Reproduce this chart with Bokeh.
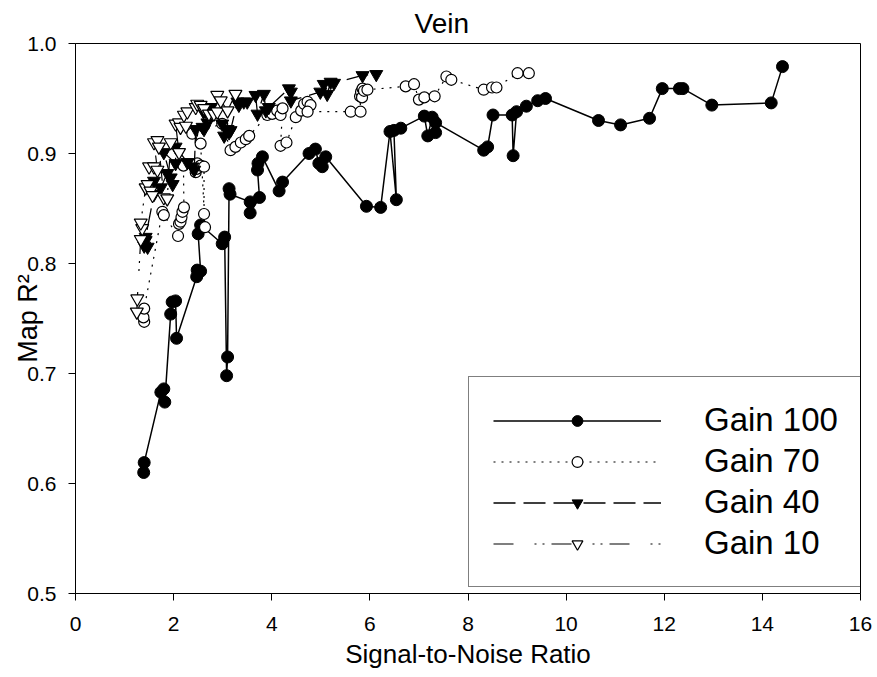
from bokeh.plotting import figure
from bokeh.models import Range1d, FixedTicker, PrintfTickFormatter, Legend, LegendItem
from bokeh.embed import file_html
from bokeh.resources import INLINE

FONT = "Liberation Sans"

title_text = "Vein"
x_label = "Signal-to-Noise Ratio"
y_label = "Map R\u00b2"
x_ticks = [0, 2, 4, 6, 8, 10, 12, 14, 16]
y_ticks = [0.5, 0.6, 0.7, 0.8, 0.9, 1.0]
series_names = ["Gain 100", "Gain 70", "Gain 40", "Gain 10"]

snr_100 = [1.39, 1.40, 1.74, 1.80, 1.82, 1.94, 1.97, 2.04, 2.06, 2.47, 2.48, 2.55, 2.50, 2.55,
           2.99, 3.04, 3.08, 3.10, 3.13, 3.15, 3.56, 3.56, 3.75, 3.71, 3.72, 3.81, 4.15, 4.22,
           4.76, 4.89, 4.96, 5.03, 5.10, 5.93, 6.22, 6.41, 6.54, 6.49, 6.63, 7.11, 7.18, 7.27,
           7.34, 7.34, 8.32, 8.40, 8.51, 8.90, 8.92, 8.99, 9.19, 9.42, 9.58, 10.66, 11.11, 11.70,
           11.96, 12.31, 12.38, 12.97, 14.18, 14.41]
r2_100 = [0.610, 0.619, 0.683, 0.686, 0.674, 0.754, 0.765, 0.766, 0.732, 0.788, 0.794, 0.793, 0.827, 0.835,
          0.818, 0.824, 0.698, 0.715, 0.868, 0.863, 0.856, 0.846, 0.860, 0.885, 0.891, 0.897, 0.866, 0.874,
          0.900, 0.904, 0.891, 0.888, 0.897, 0.852, 0.851, 0.920, 0.858, 0.921, 0.923, 0.934, 0.916, 0.933,
          0.919, 0.928, 0.903, 0.906, 0.935, 0.935, 0.898, 0.938, 0.943, 0.948, 0.950, 0.930, 0.926, 0.932,
          0.959, 0.959, 0.959, 0.944, 0.946, 0.979]

snr_70 = [1.40, 1.385, 1.40, 1.77, 1.80, 2.09, 2.11, 2.14, 2.16, 2.18, 2.21, 2.20, 2.45, 2.47, 2.48,
          2.55, 2.62, 2.62, 2.64, 2.55, 2.38, 2.99, 3.16, 3.26, 3.37, 3.47, 3.54, 3.91, 4.01, 4.11,
          4.18, 4.22, 4.18, 4.30, 4.49, 4.60, 4.66, 4.73, 4.79, 4.73, 5.61, 5.81, 5.80, 5.82, 5.84,
          5.85, 5.88, 5.95, 6.73, 6.90, 7.00, 7.11, 7.32, 7.56, 7.66, 8.32, 8.49, 8.58, 9.01, 9.24]
r2_70 = [0.747, 0.751, 0.759, 0.847, 0.844, 0.825, 0.836, 0.838, 0.842, 0.847, 0.851, 0.889, 0.883, 0.886, 0.891,
         0.889, 0.888, 0.845, 0.833, 0.909, 0.918, 0.927, 0.903, 0.906, 0.910, 0.913, 0.916, 0.935, 0.936, 0.939,
         0.935, 0.941, 0.907, 0.910, 0.933, 0.939, 0.945, 0.947, 0.944, 0.938, 0.938, 0.938, 0.952, 0.956, 0.951,
         0.959, 0.957, 0.958, 0.961, 0.963, 0.949, 0.951, 0.952, 0.970, 0.967, 0.958, 0.960, 0.960, 0.973, 0.973]

snr_40 = [1.40, 1.43, 1.47, 1.43, 1.60, 1.60, 1.74, 1.87, 1.94, 1.98, 1.80, 2.04, 2.04, 2.28, 2.38,
          2.42, 2.45, 2.59, 2.62, 2.69, 2.61, 2.72, 2.76, 2.99, 3.03, 3.10, 3.13, 3.16, 3.30, 3.33,
          3.43, 3.50, 3.67, 3.71, 3.84, 3.88, 3.94, 4.35, 4.39, 4.39, 4.99, 5.06, 5.13, 5.20, 5.27,
          5.85, 6.13]
r2_40 = [0.816, 0.821, 0.815, 0.824, 0.863, 0.875, 0.869, 0.882, 0.878, 0.872, 0.901, 0.891, 0.906, 0.892, 0.888,
         0.885, 0.922, 0.924, 0.922, 0.928, 0.938, 0.942, 0.942, 0.927, 0.916, 0.922, 0.919, 0.921, 0.947, 0.944,
         0.947, 0.947, 0.953, 0.936, 0.954, 0.939, 0.942, 0.959, 0.956, 0.948, 0.956, 0.963, 0.954, 0.965, 0.964,
         0.971, 0.972]

snr_10 = [1.25, 1.26, 1.33, 1.36, 1.33, 1.43, 1.47, 1.53, 1.57, 1.50, 1.60, 1.67, 1.60, 1.67, 1.70,
          1.80, 1.87, 1.94, 2.11, 2.04, 2.11, 2.14, 2.25, 2.21, 2.28, 2.45, 2.48, 2.55, 2.62, 2.72,
          2.82, 2.89, 2.89, 2.96, 3.10, 3.26]
r2_10 = [0.756, 0.768, 0.822, 0.832, 0.837, 0.869, 0.872, 0.866, 0.862, 0.888, 0.888, 0.885, 0.910, 0.912, 0.906,
         0.860, 0.859, 0.910, 0.901, 0.927, 0.928, 0.924, 0.925, 0.935, 0.938, 0.942, 0.945, 0.944, 0.941, 0.936,
         0.936, 0.938, 0.953, 0.948, 0.939, 0.954]

p = figure(width=877, height=677, output_backend="svg", toolbar_location=None, title=title_text,
           x_range=Range1d(0, 16), y_range=Range1d(0.5, 1.0),
           min_border_left=75, min_border_right=17, min_border_top=43, min_border_bottom=84)
p.title.text_font = FONT
p.title.text_font_size = "28px"
p.title.text_font_style = "normal"
p.title.text_color = "black"
p.title.align = "left"
p.title.offset = 339
p.title.standoff = 10
p.xgrid.visible = False
p.ygrid.visible = False
p.outline_line_color = "black"
p.outline_line_width = 1
p.background_fill_color = "white"
p.border_fill_color = "white"

p.xaxis.ticker = FixedTicker(ticks=x_ticks)
p.yaxis.ticker = FixedTicker(ticks=y_ticks)
p.yaxis.formatter = PrintfTickFormatter(format="%.1f")
for ax in (p.xaxis[0], p.yaxis[0]):
    ax.axis_line_color = "black"
    ax.axis_line_width = 1
    ax.major_tick_line_color = "black"
    ax.major_tick_line_width = 1
    ax.major_tick_in = 0
    ax.major_tick_out = 7
    ax.minor_tick_line_color = None
    ax.major_label_text_font = FONT
    ax.major_label_text_font_size = "21px"
    ax.major_label_text_color = "black"
    ax.axis_label_text_font = FONT
    ax.axis_label_text_font_style = "normal"
    ax.axis_label_text_color = "black"
p.xaxis.major_label_standoff = 16
p.yaxis.major_label_standoff = 12
p.xaxis.axis_label = x_label
p.xaxis.axis_label_text_font_size = "26px"
p.xaxis.axis_label_standoff = 5
p.yaxis.axis_label = y_label
p.yaxis.axis_label_text_font_size = "27px"
p.yaxis.axis_label_standoff = -19

# Gain 100
l100 = p.line(snr_100, r2_100, line_color="black", line_width=1.5)
m100 = p.scatter(snr_100, r2_100, marker="circle", size=12, fill_color="black", line_color="black")
# Gain 70
l70 = p.line(snr_70, r2_70, line_color="black", line_width=1.2, line_dash="2 6")
m70 = p.scatter(snr_70, r2_70, marker="circle", size=11, fill_color="white", line_color="black", line_width=1.2)
# Gain 40
l40 = p.line(snr_40, r2_40, line_color="black", line_width=1.3, line_dash="22 8")
m40 = p.scatter(snr_40, r2_40, marker="inverted_triangle", size=13, fill_color="black", line_color="black")
# Gain 10
l10 = p.line(snr_10, r2_10, line_color="black", line_width=1.2, line_dash="20 21 2 6 2 7")
m10 = p.scatter(snr_10, r2_10, marker="inverted_triangle", size=13, fill_color="white", line_color="black", line_width=1.2)

legend = Legend(items=[
    LegendItem(label=series_names[0], renderers=[l100, m100]),
    LegendItem(label=series_names[1], renderers=[l70, m70]),
    LegendItem(label=series_names[2], renderers=[l40, m40]),
    LegendItem(label=series_names[3], renderers=[l10, m10]),
], location=(393, 6))
legend.margin = 0
legend.padding = 24
legend.spacing = 3
legend.glyph_width = 168
legend.glyph_height = 27
legend.label_standoff = 43
legend.label_text_font = FONT
legend.label_text_font_size = "33px"
legend.label_text_color = "black"
legend.border_line_color = "black"
legend.border_line_width = 1
legend.background_fill_color = "white"
legend.background_fill_alpha = 1.0
p.add_layout(legend, "center")

open("out.html", "w").write(file_html(p, INLINE))
